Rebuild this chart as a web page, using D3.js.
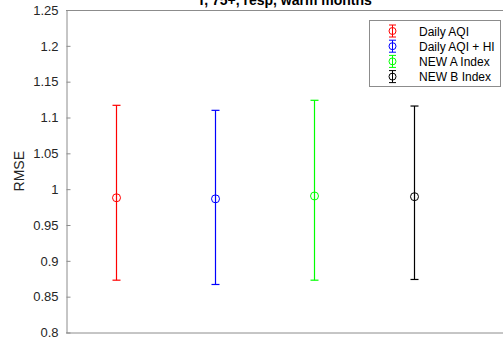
<!DOCTYPE html>
<html><head><meta charset="utf-8">
<script src="https://cdn.jsdelivr.net/npm/d3@7"></script>
<style>body{margin:0;background:#fff}svg{display:block}</style>
</head><body>
<script>
const categories = ["Daily AQI", "Daily AQI + HI", "NEW A Index", "NEW B Index"];
const centers = [0.988, 0.9865, 0.9905, 0.9895];
const uppers = [1.117, 1.110, 1.124, 1.116];
const lowers = [0.873, 0.867, 0.873, 0.874];
const colors = ["#ff0000", "#0000ff", "#00ff00", "#000000"];
const yTicks = [0.8, 0.85, 0.9, 0.95, 1, 1.05, 1.1, 1.15, 1.2, 1.25];
const titleText = "T, 75+, resp, warm months";
const yLabel = "RMSE";

const W = 503, H = 345;
const svg = d3.select("body").append("svg").attr("width", W).attr("height", H);
const L = 66, T = 10, B = 332.5, R = 503;

const x = d3.scaleLinear().domain([0.5, 4.9]).range([L, R]);
const y = d3.scaleLinear().domain([0.8, 1.25]).range([B, T]);

const axisCol = "#8c8c8c";
const textCol = "#262626";

// y axis
const yAxis = d3.axisLeft(y).tickValues(yTicks).tickFormat(d => d3.format("")(+d.toFixed(2))).tickSizeInner(-4).tickSizeOuter(0).tickPadding(8);
const gy = svg.append("g").attr("transform", `translate(${L + 0.5},0)`).call(yAxis);
gy.select(".domain").attr("stroke", axisCol);
gy.selectAll(".tick line").attr("stroke", axisCol);
gy.selectAll(".tick text").attr("fill", textCol).attr("font-family", "Liberation Sans, Arial, sans-serif").attr("font-size", 13);

// box lines
svg.append("line").attr("x1", L).attr("x2", R).attr("y1", B + 0.5).attr("y2", B + 0.5).attr("stroke", axisCol);
svg.append("line").attr("x1", L).attr("x2", R).attr("y1", T + 0.5).attr("y2", T + 0.5).attr("stroke", axisCol);

// error bars
const g = svg.append("g");
categories.forEach((c, i) => {
  const cx = Math.round(x(i + 1)) + 0.5;
  const col = colors[i];
  g.append("line").attr("x1", cx).attr("x2", cx).attr("y1", y(uppers[i])).attr("y2", y(lowers[i])).attr("stroke", col).attr("stroke-width", 1.2);
  [uppers[i], lowers[i]].forEach(v => {
    g.append("line").attr("x1", cx - 4).attr("x2", cx + 4).attr("y1", y(v)).attr("y2", y(v)).attr("stroke", col).attr("stroke-width", 1.2);
  });
  g.append("circle").attr("cx", cx).attr("cy", y(centers[i])).attr("r", 4).attr("fill", "none").attr("stroke", col).attr("stroke-width", 1);
});

// title (partly above the top edge, as in the reference)
svg.append("text").attr("x", (L + R) / 2).attr("y", 4.5).attr("text-anchor", "middle")
  .attr("font-family", "Liberation Sans, Arial, sans-serif").attr("font-weight", "bold").attr("font-size", 14)
  .attr("fill", "#000").text(titleText);

// y label
svg.append("text").attr("transform", `translate(24,${(T + B) / 2}) rotate(-90)`).attr("text-anchor", "middle")
  .attr("font-family", "Liberation Sans, Arial, sans-serif").attr("font-size", 14).attr("fill", textCol).text(yLabel);

// legend
const lg = svg.append("g");
lg.append("rect").attr("x", 369.5).attr("y", 20.5).attr("width", 131).attr("height", 66).attr("fill", "#fff").attr("stroke", axisCol);
categories.forEach((c, i) => {
  const cy = 31 + i * 15.2;
  const mx = 392.5;
  const col = colors[i];
  lg.append("line").attr("x1", mx).attr("x2", mx).attr("y1", cy - 6).attr("y2", cy + 6).attr("stroke", col);
  lg.append("line").attr("x1", mx - 3.5).attr("x2", mx + 3.5).attr("y1", cy - 6).attr("y2", cy - 6).attr("stroke", col);
  lg.append("line").attr("x1", mx - 3.5).attr("x2", mx + 3.5).attr("y1", cy + 6).attr("y2", cy + 6).attr("stroke", col);
  lg.append("circle").attr("cx", mx).attr("cy", cy).attr("r", 3.5).attr("fill", "none").attr("stroke", col);
  lg.append("text").attr("x", 419).attr("y", cy + 4.5).attr("font-family", "Liberation Sans, Arial, sans-serif")
    .attr("font-size", 12).attr("fill", "#000").text(c);
});
</script>
</body></html>
